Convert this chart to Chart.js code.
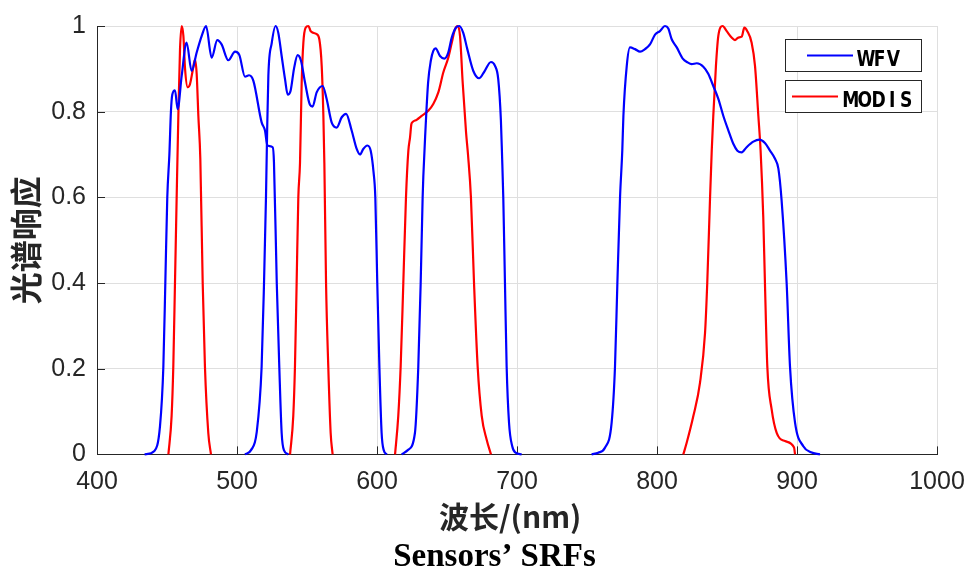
<!DOCTYPE html>
<html>
<head>
<meta charset="utf-8">
<script src="https://cdn.jsdelivr.net/npm/chart.js@4.4.1/dist/chart.umd.min.js"></script>
<style>
html, body { margin: 0; padding: 0; background: #fff; }
</style>
</head>
<body>
<canvas id="srf" width="970" height="577"></canvas>
<script>
// WFV bands (wavelength nm / relative response)
var wfvB1Nm = [434, 441, 445, 447.4, 448.8, 450.2, 451.7, 452.8, 453.8, 455.7, 457.6, 460.5, 464, 467.6, 471.2, 474.8, 477.9, 481.9, 485.9, 489, 493.8, 498.6, 501.7, 505.7, 508.6, 511.7, 517.6, 520, 521.7, 525.5, 526.4, 528.4, 530.2, 531.9, 533.5, 536.7];
var wfvB1R  = [0, 0.008, 0.066, 0.205, 0.40, 0.60, 0.70, 0.80, 0.84, 0.85, 0.806, 0.884, 0.961, 0.895, 0.938, 0.977, 1.0, 0.926, 0.967, 0.957, 0.92, 0.94, 0.932, 0.882, 0.885, 0.872, 0.775, 0.756, 0.721, 0.717, 0.682, 0.40, 0.205, 0.05, 0.01, 0];

var wfvB2Nm = [505.7, 510, 514, 517.6, 519.3, 520.7, 521.5, 522.4, 524.8, 527.6, 529.5, 531.9, 534.3, 536.2, 538.3, 540.7, 543.3, 545.7, 548.6, 552.1, 554, 556.9, 561.2, 564, 567.6, 571.2, 574.8, 577.9, 581.9, 585.5, 587.9, 590.2, 593.1, 595.5, 597.5, 598.8, 600.2, 601.7, 603.3, 604.8, 607];
var wfvB2R  = [0, 0.01, 0.05, 0.205, 0.40, 0.60, 0.75, 0.884, 0.96, 1.0, 0.984, 0.93, 0.876, 0.84, 0.849, 0.90, 0.932, 0.919, 0.868, 0.816, 0.812, 0.845, 0.86, 0.83, 0.775, 0.763, 0.787, 0.795, 0.756, 0.713, 0.70, 0.713, 0.721, 0.709, 0.66, 0.60, 0.40, 0.205, 0.05, 0.01, 0];

var wfvB3Nm = [617.6, 622, 627.1, 629.5, 631.2, 632.6, 633.1, 634.5, 636.5, 638.5, 640.2, 641.9, 645, 648.1, 650.9, 653.4, 656.4, 658.8, 661.6, 664.5, 668.8, 672.9, 676.4, 681.4, 684.3, 686.6, 688.5, 689.3, 690.2, 691.4, 692.6, 694.3, 696.6, 699, 703.3];
var wfvB3R  = [0, 0.01, 0.05, 0.205, 0.40, 0.60, 0.65, 0.75, 0.868, 0.92, 0.942, 0.948, 0.93, 0.924, 0.938, 0.973, 0.996, 1.0, 0.984, 0.946, 0.895, 0.878, 0.892, 0.916, 0.907, 0.876, 0.78, 0.70, 0.60, 0.40, 0.205, 0.074, 0.019, 0.004, 0];

var wfvB4Nm = [753.3, 758, 762.9, 767.6, 770, 771.7, 773.6, 775.2, 776, 778.4, 780.7, 784.3, 787.9, 791.4, 795, 798.6, 802.1, 805.7, 808.1, 810.5, 814.1, 818.4, 821.9, 824.8, 828.4, 833.1, 836.7, 840.2, 843.8, 847.4, 851, 854.5, 857.4, 860.5, 864, 868.8, 873.1, 877.1, 880.7, 884.3, 886.7, 889, 892.6, 895, 898.6, 904.5, 910, 916.4];
var wfvB4R  = [0, 0.004, 0.016, 0.074, 0.205, 0.40, 0.60, 0.709, 0.79, 0.907, 0.95, 0.946, 0.94, 0.946, 0.957, 0.98, 0.988, 1.0, 0.994, 0.969, 0.95, 0.924, 0.915, 0.911, 0.913, 0.905, 0.888, 0.86, 0.83, 0.79, 0.756, 0.725, 0.709, 0.705, 0.717, 0.73, 0.735, 0.727, 0.709, 0.69, 0.667, 0.593, 0.40, 0.205, 0.074, 0.019, 0.005, 0];

// MODIS bands 3, 4, 1, 2
var modB3Nm = [451, 453.3, 454.5, 455.7, 456.9, 458.1, 459.3, 460.5, 461.7, 462.9, 464.8, 466.4, 468.3, 470, 471.2, 472.4, 473.8, 475.5, 477.1, 479.5, 481.4];
var modB3R  = [0, 0.09, 0.205, 0.40, 0.60, 0.79, 0.946, 1.0, 0.977, 0.90, 0.857, 0.864, 0.895, 0.922, 0.888, 0.79, 0.69, 0.40, 0.205, 0.05, 0];

var modB4Nm = [537.9, 540.2, 541.4, 542.6, 543.8, 545, 546.2, 547.4, 549, 551, 552.6, 554.5, 556.9, 558.8, 560.5, 561.7, 562.4, 563.6, 565.2, 566.9, 568.3];
var modB4R  = [0, 0.09, 0.205, 0.40, 0.60, 0.68, 0.868, 0.961, 0.996, 1.0, 0.988, 0.984, 0.981, 0.969, 0.907, 0.79, 0.68, 0.40, 0.205, 0.05, 0];

var modB1Nm = [612.9, 615.2, 616.9, 618.8, 620.7, 622.4, 623.6, 624.5, 625.2, 628.3, 631.9, 636.6, 640.2, 643.8, 647.4, 650.9, 653.4, 655.7, 657.6, 659.3, 661.2, 663.6, 665, 667.1, 669.3, 671.9, 674.8, 678.3, 681.4];
var modB1R  = [0, 0.09, 0.205, 0.40, 0.60, 0.709, 0.74, 0.77, 0.775, 0.781, 0.79, 0.802, 0.818, 0.845, 0.892, 0.926, 0.961, 0.992, 1.0, 0.977, 0.868, 0.752, 0.70, 0.60, 0.40, 0.205, 0.09, 0.035, 0];

var modB2Nm = [818.8, 821.2, 826, 830.7, 834.3, 835.9, 837.9, 839.1, 840.2, 842.1, 843.8, 846.9, 849.8, 853.3, 855.7, 858.1, 860.5, 862.4, 864.5, 867.6, 870, 872.4, 874, 875.9, 877.1, 878.8, 881.9, 885.5, 891.4, 897.9, 898.6];
var modB2R  = [0, 0.027, 0.09, 0.167, 0.283, 0.40, 0.60, 0.709, 0.79, 0.907, 0.977, 1.0, 0.988, 0.973, 0.967, 0.973, 0.975, 0.996, 0.988, 0.961, 0.907, 0.79, 0.709, 0.554, 0.40, 0.205, 0.105, 0.05, 0.031, 0.016, 0];

var xTicks = [400, 500, 600, 700, 800, 900, 1000];
var yTicks = [0, 0.2, 0.4, 0.6, 0.8, 1];
var sensorNames = ['WFV', 'MODIS'];
var sensorColors = ['#0000ff', '#ff0000'];

var axisColor = '#262626';
var gridColor = '#dfdfdf';

function band(nm, r, color) {
    return {
        data: nm.map(function(v, i){ return {x: v, y: r[i]}; }),
        borderColor: color,
        borderWidth: 2.2,
        pointRadius: 0,
        cubicInterpolationMode: 'monotone',
        fill: false,
        clip: 4
    };
}

// inward tick marks on the left and bottom axes
var innerTicks = {
    id: 'innerTicks',
    beforeDatasetsDraw: function(chart){
        var ctx = chart.ctx, a = chart.chartArea;
        var xs = chart.scales.x, ys = chart.scales.y;
        ctx.save();
        ctx.strokeStyle = axisColor;
        ctx.lineWidth = 1;
        ctx.beginPath();
        xTicks.forEach(function(t){
            var px = Math.round(xs.getPixelForValue(t)) + 0.5;
            ctx.moveTo(px, a.bottom);
            ctx.lineTo(px, a.bottom - 8);
        });
        yTicks.forEach(function(t){
            var py = Math.round(ys.getPixelForValue(t)) + 0.5;
            ctx.moveTo(a.left, py);
            ctx.lineTo(a.left + 8, py);
        });
        ctx.stroke();
        ctx.restore();
    }
};

// the caption sits centred on the whole figure width, not just the padded box
var captionSpan = {
    id: 'captionSpan',
    afterLayout: function(chart){
        if (chart.titleBlock) {
            chart.titleBlock.left = 0;
            chart.titleBlock.right = 989;
        }
    }
};

// one boxed entry per sensor, like the matlab legend
var boxLegend = {
    id: 'boxLegend',
    afterDraw: function(chart){
        var ctx = chart.ctx;
        var boxes = [
            {top: 39.5, lineX: 807, textX: 859},
            {top: 80.5, lineX: 792, textX: 844}
        ];
        ctx.save();
        boxes.forEach(function(b, i){
            ctx.fillStyle = '#fff';
            ctx.fillRect(785.5, b.top, 136, 32);
            ctx.strokeStyle = axisColor;
            ctx.lineWidth = 1;
            ctx.strokeRect(785.5, b.top, 136, 32);
            ctx.strokeStyle = sensorColors[i];
            ctx.lineWidth = 2;
            ctx.beginPath();
            ctx.moveTo(b.lineX, b.top + 16);
            ctx.lineTo(b.lineX + 46, b.top + 16);
            ctx.stroke();
            ctx.fillStyle = '#000';
            ctx.font = 'bold 22px "DejaVu Sans"';
            ctx.textAlign = 'center';
            ctx.textBaseline = 'alphabetic';
            var name = sensorNames[i];
            for (var k = 0; k < name.length; k++) {
                ctx.save();
                ctx.translate(b.textX + 13.8 * k + 6.9, b.top + 26.5);
                ctx.scale(0.78, 1);
                ctx.fillText(name[k], 0, 0);
                ctx.restore();
            }
        });
        ctx.restore();
    }
};

function plainLabel(v) { return String(v); }

new Chart(document.getElementById('srf'), {
    type: 'line',
    data: {
        datasets: [
            band(wfvB1Nm, wfvB1R, sensorColors[0]),
            band(wfvB2Nm, wfvB2R, sensorColors[0]),
            band(wfvB3Nm, wfvB3R, sensorColors[0]),
            band(wfvB4Nm, wfvB4R, sensorColors[0]),
            band(modB3Nm, modB3R, sensorColors[1]),
            band(modB4Nm, modB4R, sensorColors[1]),
            band(modB1Nm, modB1R, sensorColors[1]),
            band(modB2Nm, modB2R, sensorColors[1])
        ]
    },
    options: {
        responsive: false,
        animation: false,
        devicePixelRatio: 1,
        layout: { padding: { top: 25, right: 0, left: 0, bottom: 0 } },
        plugins: {
            legend: { display: false },
            tooltip: { enabled: false },
            title: {
                display: true,
                position: 'bottom',
                text: 'Sensors\u2019 SRFs',
                color: '#000',
                font: { family: '"Liberation Serif", "Times New Roman", serif', size: 33, weight: 'bold', lineHeight: 1.2 },
                padding: 0
            }
        },
        scales: {
            x: {
                type: 'linear',
                min: 400,
                max: 1000,
                afterBuildTicks: function(s){ s.ticks = xTicks.map(function(v){ return {value: v}; }); },
                afterFit: function(s){
                    s.height = 83;
                    s.paddingRight = 33;
                },
                ticks: {
                    color: axisColor,
                    padding: 13,
                    maxRotation: 0,
                    autoSkip: false,
                    callback: plainLabel,
                    font: { family: '"Liberation Sans", Arial, sans-serif', size: 25 }
                },
                grid: { color: gridColor, lineWidth: 1, drawTicks: false },
                border: { display: true, color: axisColor, width: 1 },
                title: {
                    display: true,
                    text: '波长/(nm)  ',
                    color: axisColor,
                    font: { family: '"Noto Sans CJK SC", sans-serif', size: 30, weight: 'bold', lineHeight: 1.2 },
                    padding: { top: 0, bottom: 3 }
                }
            },
            y: {
                min: 0,
                max: 1,
                afterBuildTicks: function(s){ s.ticks = yTicks.map(function(v){ return {value: v}; }); },
                afterFit: function(s){ s.width = 97; },
                ticks: {
                    color: axisColor,
                    padding: 11,
                    callback: plainLabel,
                    font: { family: '"Liberation Sans", Arial, sans-serif', size: 25 }
                },
                grid: { color: gridColor, lineWidth: 1, drawTicks: false },
                border: { display: true, color: axisColor, width: 1 },
                title: {
                    display: true,
                    text: '光谱响应',
                    color: axisColor,
                    font: { family: '"Noto Sans CJK SC", sans-serif', size: 32, weight: 'bold', lineHeight: 1.2 },
                    padding: { top: 7, bottom: 0 }
                }
            }
        }
    },
    plugins: [innerTicks, captionSpan, boxLegend]
});
</script>
</body>
</html>
